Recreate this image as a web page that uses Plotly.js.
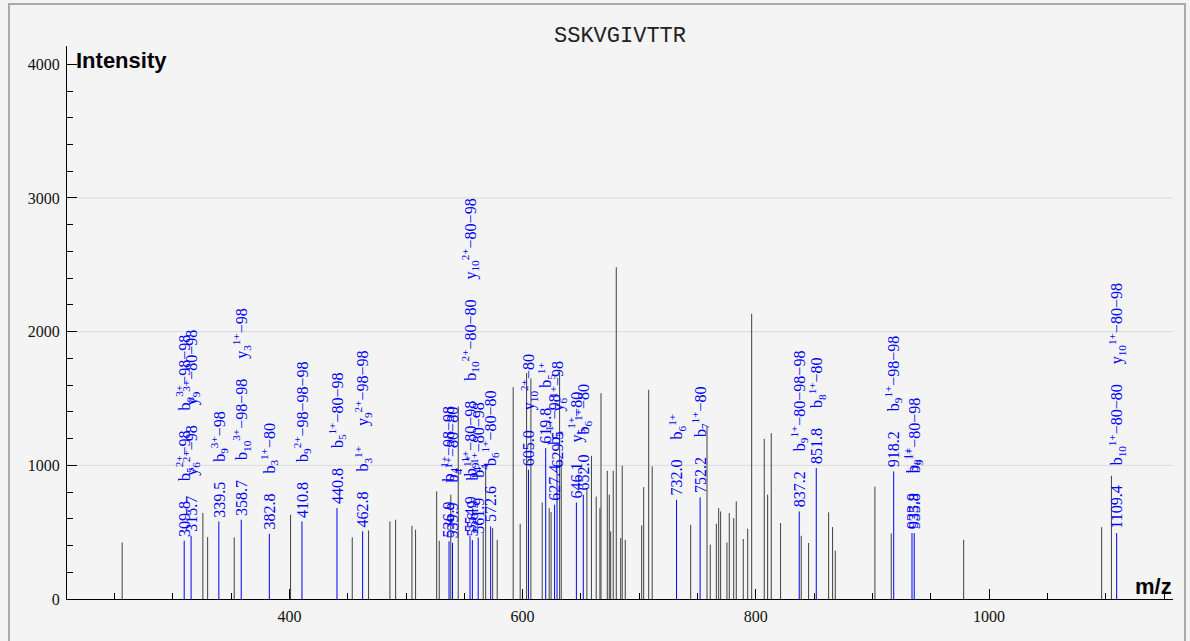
<!DOCTYPE html>
<html><head><meta charset="utf-8">
<script src="https://cdn.plot.ly/plotly-3.0.1.min.js"></script>
<style>
html,body{margin:0;padding:0;background:#f4f4f4;overflow:hidden;width:1190px;height:641px;}
#chart{position:absolute;left:0;top:0;width:1190px;height:641px;}
#frame{position:absolute;left:8px;top:3px;width:1178px;height:720px;border:2px solid #a9a9a9;box-sizing:border-box;pointer-events:none;}
</style></head><body>
<div id="chart"></div>
<div id="frame"></div>
<script>
// ---- data ----
const peptide = "SSKVGIVTTR";
const xTitle = "m/z";
const yTitle = "Intensity";

// unannotated peaks
const blackMz = [256.6,325.8,329.9,352.7,401.0,453.9,467.9,486.2,491.1,505.1,508.2,526.3,528.5,538.4,544.8,566.2,568.3,574.3,578.2,591.9,597.9,603.4,607.1,616.8,622.8,624.4,631.7,633.1,655.1,659.0,663.1,666.3,667.2,672.6,674.3,675.5,677.7,680.3,684.1,685.4,688.0,702.1,703.8,708.1,711.1,744.1,758.1,760.9,766.1,768.1,769.8,775.2,777.2,781.0,783.2,789.2,793.0,796.4,807.2,810.1,813.2,821.2,838.9,845.2,862.4,865.8,868.1,902.1,916.1,978.2,1096.5,1104.9];
const blackInt = [423,643,463,461,630,461,513,580,593,548,518,805,436,780,1440,493,1004,531,443,1585,563,1690,1650,722,680,650,1702,1047,817,1071,767,680,1540,959,780,506,960,2482,456,997,443,550,837,1565,992,555,1291,406,563,680,655,423,643,605,730,449,526,2133,1198,780,1241,568,473,419,648,538,361,840,491,443,538,922];

// annotated peaks
const blueMz  = [309.8,315.7,339.5,358.7,382.8,410.8,440.8,462.8,536.9,539.9,554.9,556.9,561.9,572.6,605.0,619.8,627.4,629.5,646.1,652.0,732.0,752.2,837.2,851.8,918.2,933.9,935.8,1109.4];
const blueInt = [436,473,580,593,488,580,680,506,431,420,470,440,460,543,967,1129,705,950,722,780,742,760,655,979,954,493,493,493];
const blueIons = [
 ["b<sub>5</sub><sup>2+</sup>−98","b<sub>8</sub><sup>3+</sup>−98−98"],
 ["y<sub>6</sub><sup>2+</sup>−98","y<sub>9</sub><sup>3+</sup>−80−98"],
 ["b<sub>9</sub><sup>3+</sup>−98"],
 ["b<sub>10</sub><sup>3+</sup>−98−98","y<sub>3</sub><sup>1+</sup>−98"],
 ["b<sub>3</sub><sup>1+</sup>−80"],
 ["b<sub>9</sub><sup>2+</sup>−98−98−98"],
 ["b<sub>5</sub><sup>1+</sup>−80−98"],
 ["b<sub>3</sub><sup>1+</sup>","y<sub>9</sub><sup>2+</sup>−98−98"],
 ["b<sub>4</sub><sup>1+</sup>−98−98"],
 ["b<sub>4</sub><sup>1+</sup>−80−80"],
 ["b<sub>9</sub><sup>1+</sup>−80−98","b<sub>10</sub><sup>2+</sup>−80−80","y<sub>10</sub><sup>2+</sup>−80−98"],
 ["b<sub>4</sub><sup>1+</sup>"],
 ["b<sub>4</sub><sup>1+</sup>−80−98"],
 ["b<sub>6</sub><sup>1+</sup>−80−80"],
 ["y<sub>10</sub><sup>2+</sup>−80"],
 ["b<sub>5</sub><sup>1+</sup>"],
 ["b<sub>5</sub><sup>1+</sup>−98"],
 ["y<sub>6</sub><sup>1+</sup>−98"],
 ["y<sub>5</sub><sup>1+</sup>−80"],
 ["b<sub>6</sub><sup>1+</sup>−80"],
 ["b<sub>6</sub><sup>1+</sup>"],
 ["b<sub>7</sub><sup>1+</sup>−80"],
 ["b<sub>9</sub><sup>1+</sup>−80−98−98"],
 ["b<sub>8</sub><sup>1+</sup>−80"],
 ["b<sub>9</sub><sup>1+</sup>−98−98"],
 ["b<sub>8</sub><sup>1+</sup>"],
 ["b<sub>9</sub><sup>1+</sup>−80−98"],
 ["b<sub>10</sub><sup>1+</sup>−80−80","y<sub>10</sub><sup>1+</sup>−80−98"]
];
const gridVals = [1000,2000,3000];

// ---- build ----
function sticks(mz, inten){
  const xs=[], ys=[];
  for(let i=0;i<mz.length;i++){ xs.push(mz[i],mz[i],null); ys.push(0,inten[i],null); }
  return {xs, ys};
}
const bk = sticks(blackMz, blackInt);
const bl = sticks(blueMz, blueInt);
const gap = "\u00a0\u00a0\u00a0\u00a0\u00a0";

const traces = [
  {x:bk.xs, y:bk.ys, type:'scatter', mode:'lines', line:{color:'#404040', width:1}, hoverinfo:'skip', showlegend:false},
  {x:bl.xs, y:bl.ys, type:'scatter', mode:'lines', line:{color:'#0000ff', width:1}, hoverinfo:'skip', showlegend:false}
];

const annotations = blueMz.map((m,i)=>({
  x:m, y:blueInt[i], xref:'x', yref:'y', showarrow:false,
  text: m.toFixed(1) + gap + blueIons[i].join(gap),
  textangle:-90, xanchor:'center', yanchor:'bottom', yshift:2,
  font:{family:'Liberation Serif', size:16, color:'#0000ff'}
}));
annotations.push({xref:'paper', yref:'paper', x:0, y:1, xanchor:'left', yanchor:'top', xshift:7, yshift:0,
  showarrow:false, text:'<b>'+yTitle+'</b>', font:{family:'Liberation Sans', size:22, color:'#000'}});
annotations.push({xref:'paper', yref:'paper', x:1, y:0, xanchor:'right', yanchor:'bottom', xshift:1, yshift:-2,
  showarrow:false, text:'<b>'+xTitle+'</b>', font:{family:'Liberation Sans', size:22, color:'#000'}});

const shapes = gridVals.map(g=>({type:'line', xref:'paper', x0:0, x1:1, yref:'y', y0:g, y1:g,
  line:{color:'#dadada', width:1}, layer:'below'}));

const tickFont = {family:'Liberation Serif', size:16, color:'#111'};
const layout = {
  width:1190, height:641,
  margin:{l:67, r:17, t:46, b:42, pad:0},
  paper_bgcolor:'rgba(0,0,0,0)', plot_bgcolor:'rgba(0,0,0,0)',
  title:{text:peptide, x:0.5, xref:'paper', y:0.947, yref:'container', yanchor:'middle',
    font:{family:'Liberation Mono', size:22, color:'#222'}},
  showlegend:false,
  xaxis:{range:[209.3,1157.7], showline:true, linecolor:'#000', linewidth:1, ticks:'inside', ticklen:10,
    tickcolor:'#000', tickwidth:1, dtick:200, tick0:0, showgrid:false, zeroline:false, tickfont:tickFont,
    ticklabelstandoff:3,
    minor:{dtick:50, ticks:'inside', ticklen:6, tickcolor:'#000', showgrid:false}},
  yaxis:{range:[0,4137], showline:true, linecolor:'#000', linewidth:1, ticks:'inside', ticklen:10,
    tickcolor:'#000', tickwidth:1, dtick:1000, tick0:0, showgrid:false, zeroline:false, tickfont:tickFont,
    ticklabelstandoff:3,
    minor:{dtick:200, ticks:'inside', ticklen:6, tickcolor:'#000', showgrid:false}},
  shapes, annotations
};
Plotly.newPlot('chart', traces, layout, {staticPlot:true, displayModeBar:false});
</script>
</body></html>
